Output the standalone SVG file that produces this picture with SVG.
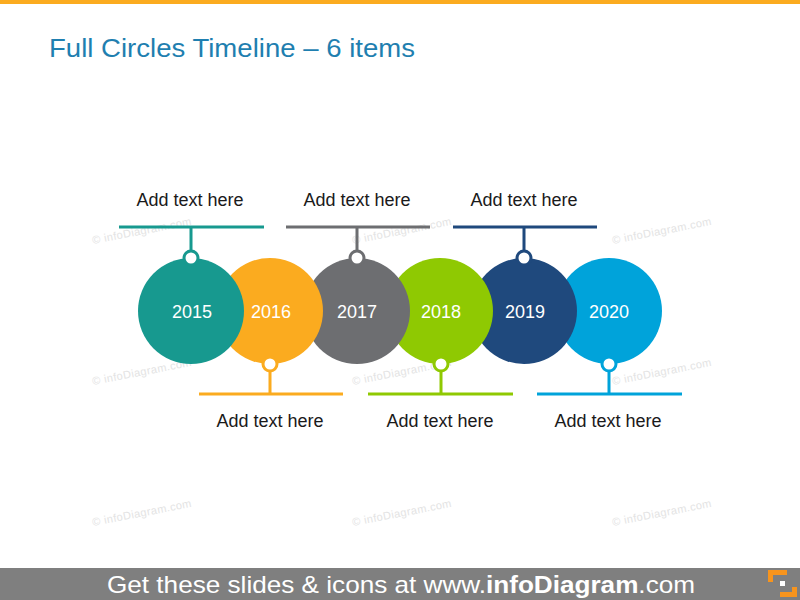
<svg xmlns="http://www.w3.org/2000/svg" width="800" height="600" viewBox="0 0 800 600">
  <style>
    .title { font-family: "Liberation Sans", Arial, sans-serif; font-size: 26px; fill: #1f7fb0; }
    .lbl { font-family: "Liberation Sans", Arial, sans-serif; font-size: 18px; fill: #1a1a1a; text-anchor: middle; }
    .yr { font-family: "Liberation Sans", Arial, sans-serif; font-size: 18px; fill: #ffffff; text-anchor: middle; }
    .wm { font-family: "Liberation Sans", Arial, sans-serif; font-size: 11px; fill: #e3e3e3; letter-spacing: 0.4px; }
    .foot { font-family: "Liberation Sans", Arial, sans-serif; font-size: 24px; fill: #ffffff; }
    .ln { stroke-width: 3; fill: none; }
    .dot { fill: #ffffff; stroke-width: 3; }
  </style>
  <rect x="0" y="0" width="800" height="600" fill="#ffffff"/>
  <rect x="0" y="0" width="800" height="4" fill="#fbab1f"/>
  <text class="title" x="49" y="57" textLength="366" lengthAdjust="spacingAndGlyphs">Full Circles Timeline – 6 items</text>

  <g id="watermarks">
    <text class="wm" transform="translate(93,244) rotate(-11)">© infoDiagram.com</text>
    <text class="wm" transform="translate(353,244) rotate(-11)">© infoDiagram.com</text>
    <text class="wm" transform="translate(613,244) rotate(-11)">© infoDiagram.com</text>
    <text class="wm" transform="translate(93,385) rotate(-11)">© infoDiagram.com</text>
    <text class="wm" transform="translate(353,385) rotate(-11)">© infoDiagram.com</text>
    <text class="wm" transform="translate(613,385) rotate(-11)">© infoDiagram.com</text>
    <text class="wm" transform="translate(93,526) rotate(-11)">© infoDiagram.com</text>
    <text class="wm" transform="translate(353,526) rotate(-11)">© infoDiagram.com</text>
    <text class="wm" transform="translate(613,526) rotate(-11)">© infoDiagram.com</text>
  </g>

  <g id="connectors">
    <path class="ln" stroke="#17998f" d="M119 227 H264 M191 227 V251"/>
    <path class="ln" stroke="#6d6e71" d="M286 227 H430 M357 227 V251"/>
    <path class="ln" stroke="#1f497d" d="M453 227 H597 M524 227 V251"/>
    <path class="ln" stroke="#fbab1f" d="M199 394 H343 M270 371 V394"/>
    <path class="ln" stroke="#8fc902" d="M368 394 H513 M441 371 V394"/>
    <path class="ln" stroke="#00a3da" d="M537 394 H682 M609 371 V394"/>
  </g>

  <g id="node2020">
    <circle cx="609" cy="311" r="53" fill="#00a3da"/>
    <circle class="dot" cx="609" cy="364" r="7" stroke="#00a3da"/>
    <text class="yr" x="609" y="318">2020</text>
    <text class="lbl" x="608" y="427">Add text here</text>
  </g>
  <g id="node2019">
    <circle cx="524" cy="311" r="53" fill="#1f497d"/>
    <circle class="dot" cx="524" cy="258" r="7" stroke="#1f497d"/>
    <text class="yr" x="525" y="318">2019</text>
    <text class="lbl" x="524" y="206">Add text here</text>
  </g>
  <g id="node2018">
    <circle cx="440" cy="311" r="53" fill="#8fc902"/>
    <circle class="dot" cx="441" cy="364" r="7" stroke="#8fc902"/>
    <text class="yr" x="441" y="318">2018</text>
    <text class="lbl" x="440" y="427">Add text here</text>
  </g>
  <g id="node2017">
    <circle cx="357" cy="311" r="53" fill="#6d6e71"/>
    <circle class="dot" cx="357" cy="258" r="7" stroke="#6d6e71"/>
    <text class="yr" x="357" y="318">2017</text>
    <text class="lbl" x="357" y="206">Add text here</text>
  </g>
  <g id="node2016">
    <circle cx="270" cy="311" r="53" fill="#fbab1f"/>
    <circle class="dot" cx="270" cy="364" r="7" stroke="#fbab1f"/>
    <text class="yr" x="271" y="318">2016</text>
    <text class="lbl" x="270" y="427">Add text here</text>
  </g>
  <g id="node2015">
    <circle cx="191" cy="311" r="53" fill="#17998f"/>
    <circle class="dot" cx="191" cy="258" r="7" stroke="#17998f"/>
    <text class="yr" x="192" y="318">2015</text>
    <text class="lbl" x="190" y="206">Add text here</text>
  </g>

  <g id="footer">
    <rect x="0" y="568" width="800" height="32" fill="#7f7f7f"/>
    <text class="foot" x="107" y="593" textLength="588" lengthAdjust="spacingAndGlyphs">Get these slides &amp; icons at www.<tspan font-weight="bold">infoDiagram</tspan>.com</text>
    <path d="M768 570 H787 V575 H773 V582 H768 Z" fill="#f7941d"/>
    <rect x="780" y="581" width="5" height="5" fill="#ffffff"/>
    <path d="M792 587 H797 V597 H780 V592 H792 Z" fill="#f7941d"/>
  </g>
</svg>
